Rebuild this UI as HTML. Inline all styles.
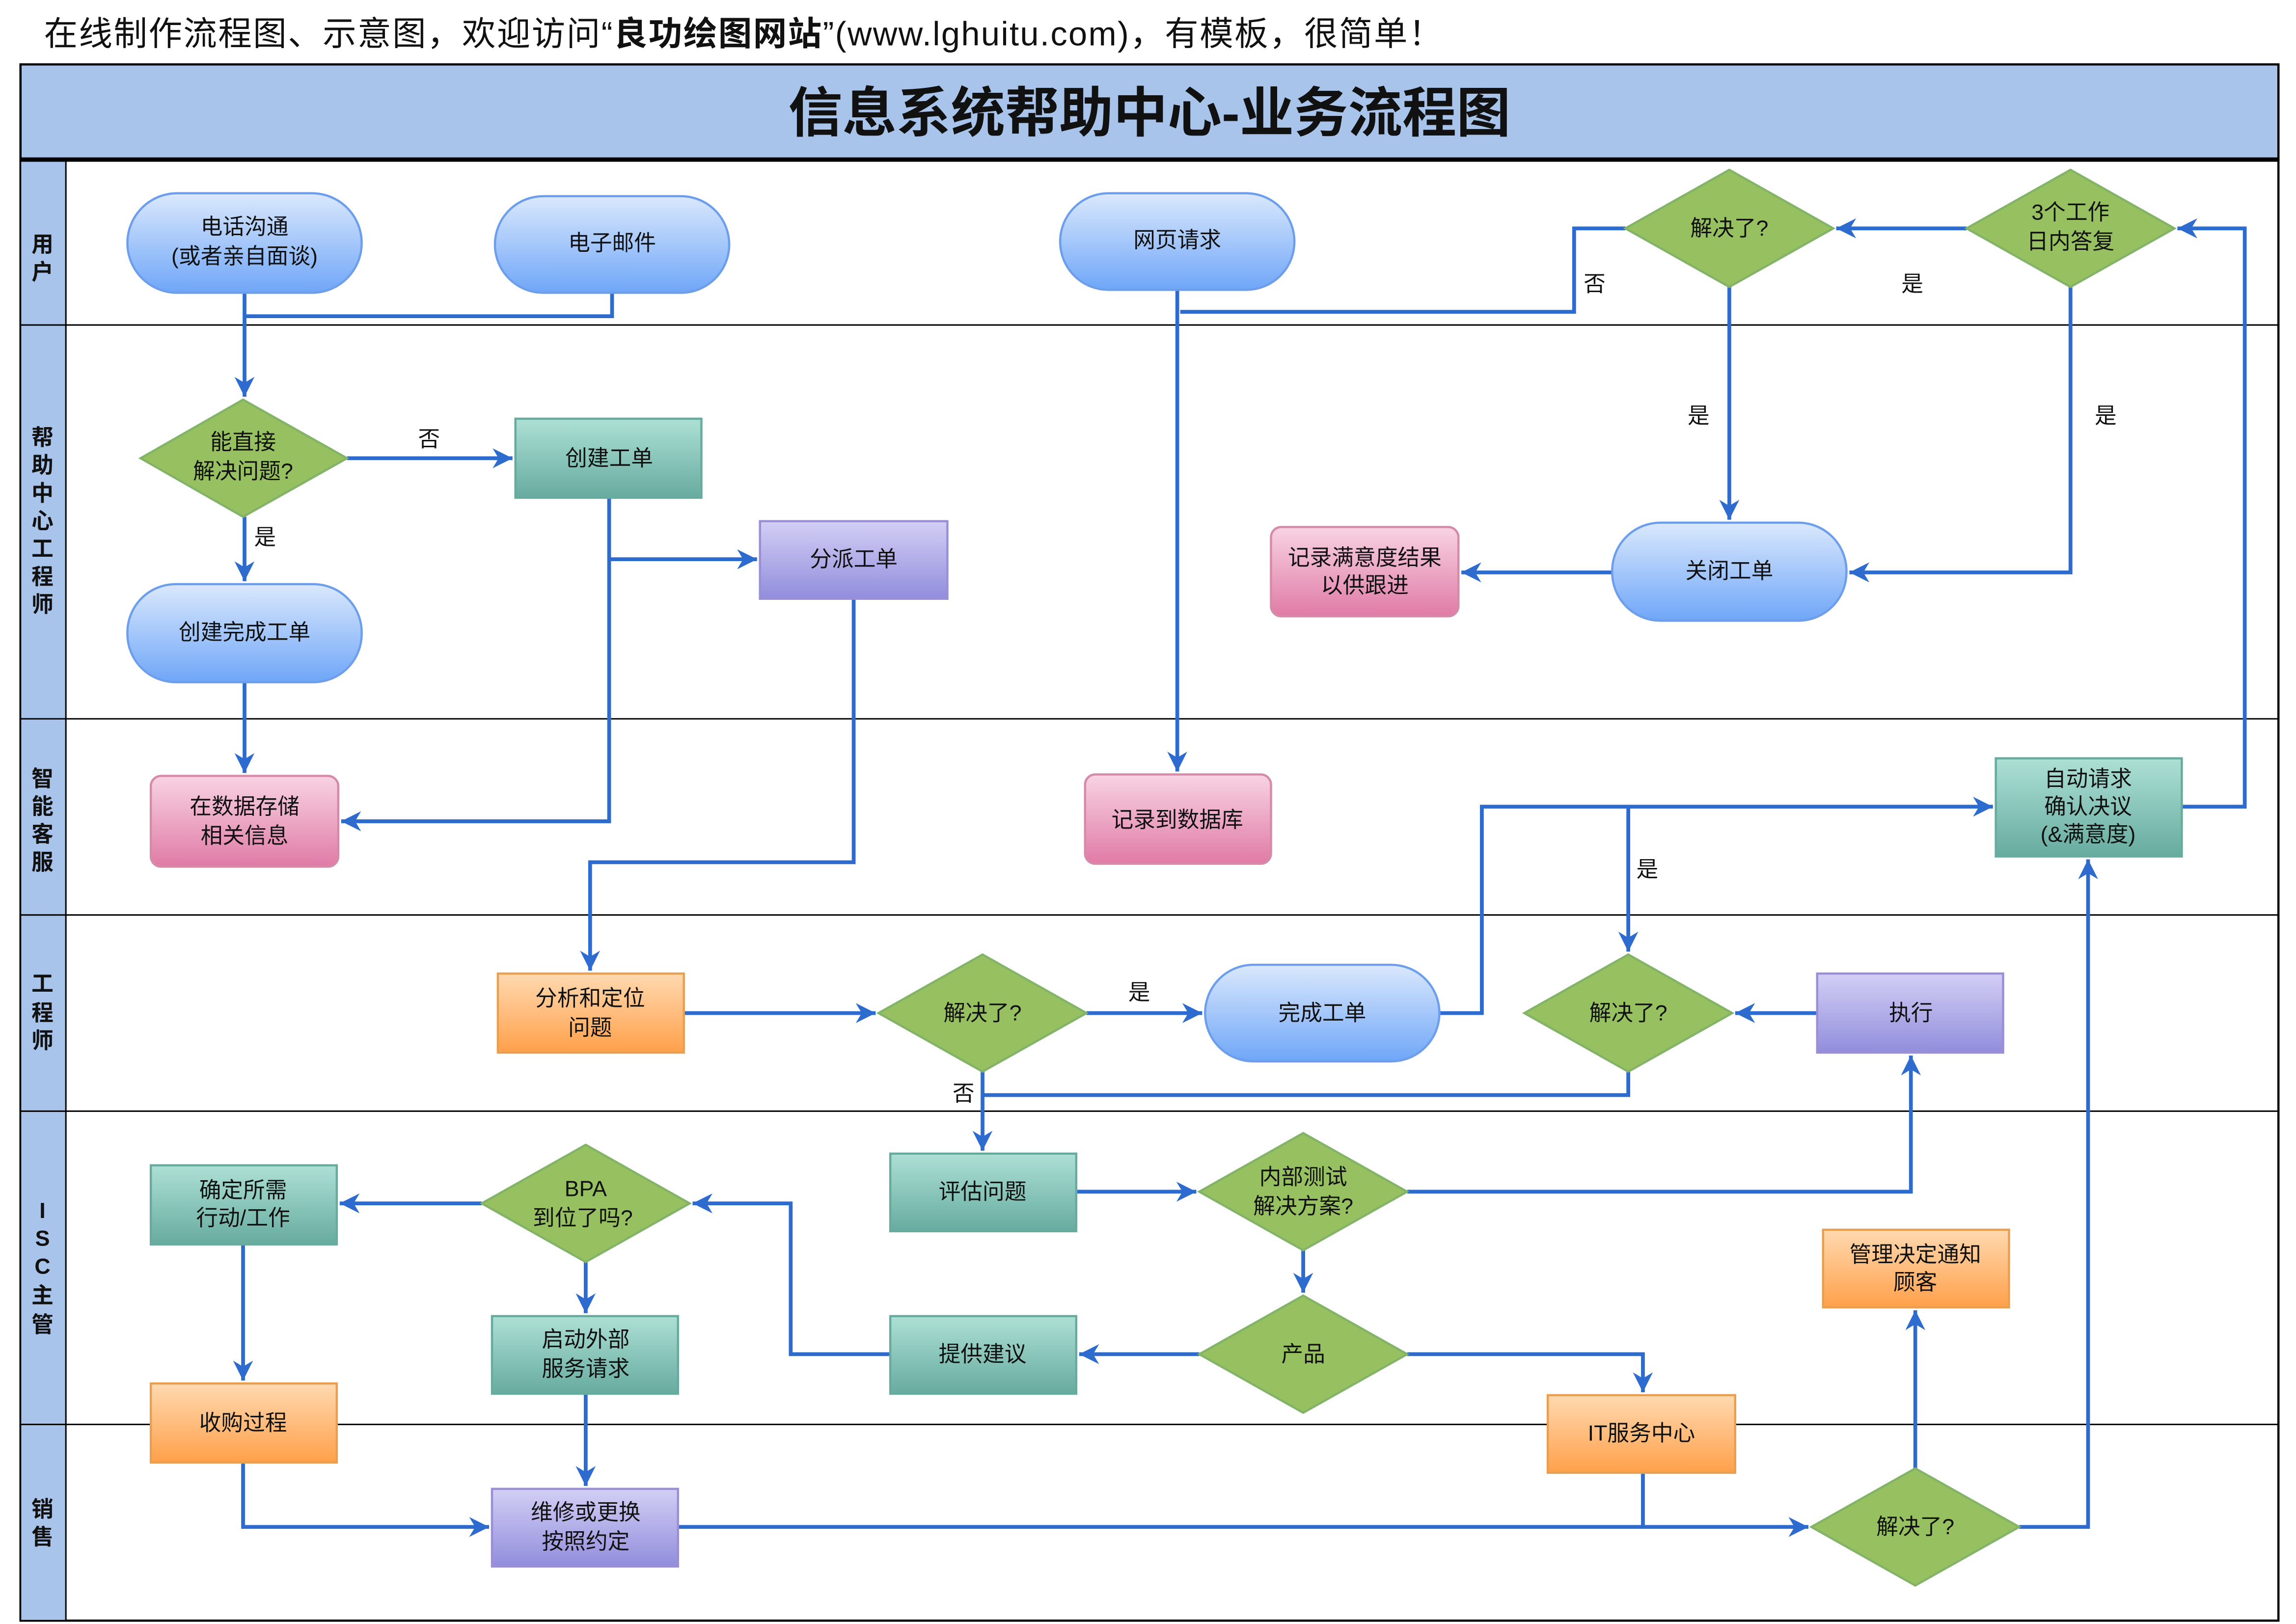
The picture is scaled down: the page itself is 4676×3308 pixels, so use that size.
<!DOCTYPE html>
<html><head><meta charset="utf-8"><style>
html,body{margin:0;padding:0;background:#fff;}
svg{display:block;}
text{font-family:"Liberation Sans","Noto Sans CJK SC",sans-serif;}
</style></head><body>
<svg width="4676" height="3308" viewBox="0 0 1568 1109.3" preserveAspectRatio="none" xmlns="http://www.w3.org/2000/svg">
<defs>
<linearGradient id="gb" x1="0" y1="0" x2="0" y2="1"><stop offset="0" stop-color="#dae8fc"/><stop offset="1" stop-color="#6fa6f8"/></linearGradient>
<linearGradient id="gt" x1="0" y1="0" x2="0" y2="1"><stop offset="0" stop-color="#ade0d5"/><stop offset="1" stop-color="#67ab9f"/></linearGradient>
<linearGradient id="gp" x1="0" y1="0" x2="0" y2="1"><stop offset="0" stop-color="#d2cff5"/><stop offset="1" stop-color="#928ddc"/></linearGradient>
<linearGradient id="gk" x1="0" y1="0" x2="0" y2="1"><stop offset="0" stop-color="#f8d3e3"/><stop offset="1" stop-color="#e07ba6"/></linearGradient>
<linearGradient id="go" x1="0" y1="0" x2="0" y2="1"><stop offset="0" stop-color="#ffd9b0"/><stop offset="1" stop-color="#ffa04a"/></linearGradient>
<marker id="a" viewBox="0 0 10 10" refX="10" refY="5" markerWidth="6.5" markerHeight="6.5" markerUnits="userSpaceOnUse" orient="auto" overflow="visible">
<path d="M0,0 L10,5 L0,10 L3,5 z" fill="#2d6bcf" transform="scale(2.1) translate(-5.2,-2.6)"/>
</marker>
</defs>
<text x="30" y="31" font-size="23" fill="#111" textLength="955" lengthAdjust="spacing">在线制作流程图、示意图，欢迎访问“<tspan font-weight="bold">良功绘图网站</tspan>”(www.lghuitu.com)，有模板，很简单！</text>
<rect x="14" y="44" width="1542" height="1063" fill="#fff" stroke="#000" stroke-width="1.5"/>
<rect x="14" y="44" width="1542" height="65" fill="#a9c4ea" stroke="#000" stroke-width="1.5"/>
<line x1="14" y1="109" x2="1556" y2="109" stroke="#000" stroke-width="3"/>
<text x="785" y="90" font-size="37" font-weight="bold" text-anchor="middle" fill="#111">信息系统帮助中心-业务流程图</text>
<rect x="14" y="110" width="31" height="997" fill="#a9c4ea" stroke="#000" stroke-width="1"/>
<g stroke="#000" stroke-width="1">
<line x1="14" y1="222" x2="1556" y2="222"/><line x1="14" y1="491" x2="1556" y2="491"/>
<line x1="14" y1="625" x2="1556" y2="625"/><line x1="14" y1="759" x2="1556" y2="759"/>
<line x1="14" y1="973" x2="1556" y2="973"/>
</g>
<g font-size="15" font-weight="bold" text-anchor="middle" fill="#111">
<text x="29" y="172">用</text><text x="29" y="191">户</text>
<text x="29" y="304">帮</text><text x="29" y="323">助</text><text x="29" y="342">中</text><text x="29" y="361">心</text><text x="29" y="380">工</text><text x="29" y="399">程</text><text x="29" y="418">师</text>
<text x="29" y="537">智</text><text x="29" y="556">能</text><text x="29" y="575">客</text><text x="29" y="594">服</text>
<text x="29" y="677">工</text><text x="29" y="697">程</text><text x="29" y="716">师</text>
<text x="29" y="832">I</text><text x="29" y="851">S</text><text x="29" y="870">C</text><text x="29" y="890">主</text><text x="29" y="910">管</text>
<text x="29" y="1036">销</text><text x="29" y="1055">售</text>
</g>
<g fill="none" stroke="#2d6bcf" stroke-width="2.6">
<path d="M167,200 V271" marker-end="url(#a)"/>
<path d="M418,200 V216 H167"/>
<path d="M237,313 H350" marker-end="url(#a)"/>
<path d="M167,353 V397" marker-end="url(#a)"/>
<path d="M416,340 V561 H233" marker-end="url(#a)"/>
<path d="M416,382 H517" marker-end="url(#a)"/>
<path d="M167,466 V528" marker-end="url(#a)"/>
<path d="M583,409 V589 H403 V663" marker-end="url(#a)"/>
<path d="M804,198 V527" marker-end="url(#a)"/>
<path d="M1110,156 H1075 V213 H806"/>
<path d="M1343,156 H1254" marker-end="url(#a)"/>
<path d="M1181,196 V355" marker-end="url(#a)"/>
<path d="M1414,196 V391 H1263" marker-end="url(#a)"/>
<path d="M1101,391 H998" marker-end="url(#a)"/>
<path d="M1490,551 H1533 V156 H1487" marker-end="url(#a)"/>
<path d="M467,692 H598" marker-end="url(#a)"/>
<path d="M742,692 H821" marker-end="url(#a)"/>
<path d="M983,692 H1012 V551 H1361" marker-end="url(#a)"/>
<path d="M1112,551 V650" marker-end="url(#a)"/>
<path d="M1241,692 H1185" marker-end="url(#a)"/>
<path d="M671,732 V786" marker-end="url(#a)"/>
<path d="M1112,732 V748 H671"/>
<path d="M735,814 H817" marker-end="url(#a)"/>
<path d="M961,814 H1305 V721" marker-end="url(#a)"/>
<path d="M890,854 V883" marker-end="url(#a)"/>
<path d="M819,925 H737" marker-end="url(#a)"/>
<path d="M961,925 H1122 V951" marker-end="url(#a)"/>
<path d="M608,925 H540 V822 H473" marker-end="url(#a)"/>
<path d="M329,822 H232" marker-end="url(#a)"/>
<path d="M400,862 V897" marker-end="url(#a)"/>
<path d="M166,850 V943" marker-end="url(#a)"/>
<path d="M400,952 V1015" marker-end="url(#a)"/>
<path d="M166,999 V1043 H334" marker-end="url(#a)"/>
<path d="M463,1043 H1235" marker-end="url(#a)"/>
<path d="M1122,1006 V1043"/>
<path d="M1308,1003 V895" marker-end="url(#a)"/>
<path d="M1379,1043 H1426 V587" marker-end="url(#a)"/>
</g>
<g font-size="15" fill="#111" text-anchor="middle">
<text x="293" y="305">否</text><text x="181" y="372">是</text>
<text x="1089" y="199">否</text><text x="1306" y="199">是</text>
<text x="1160" y="289">是</text><text x="1438" y="289">是</text>
<text x="778" y="683">是</text><text x="1125" y="599">是</text>
<text x="658" y="752">否</text>
</g>
<g fill="url(#gb)" stroke="#6d9eeb" stroke-width="1.5">
<rect x="87" y="132" width="160" height="68" rx="34"/>
<rect x="338" y="134" width="160" height="66" rx="33"/>
<rect x="724" y="132" width="160" height="66" rx="33"/>
<rect x="87" y="399" width="160" height="67" rx="33"/>
<rect x="1101" y="357" width="160" height="67" rx="33"/>
<rect x="823" y="659" width="160" height="66" rx="33"/>
</g>
<g fill="#97c160" stroke="#82b366" stroke-width="1.5">
<path d="M96,313 L166,273 L237,313 L166,353 Z"/>
<path d="M1110,156 L1181,116 L1252,156 L1181,196 Z"/>
<path d="M1343,156 L1414,116 L1485,156 L1414,196 Z"/>
<path d="M600,692 L671,652 L742,692 L671,732 Z"/>
<path d="M1041,692 L1112,652 L1183,692 L1112,732 Z"/>
<path d="M329,822 L400,782 L471,822 L400,862 Z"/>
<path d="M819,814 L890,774 L961,814 L890,854 Z"/>
<path d="M819,925 L890,885 L961,925 L890,965 Z"/>
<path d="M1237,1043 L1308,1003 L1379,1043 L1308,1083 Z"/>
</g>
<g fill="url(#gt)" stroke="#67ab9f" stroke-width="1.5">
<rect x="352" y="286" width="127" height="54"/>
<rect x="1363" y="518" width="127" height="67"/>
<rect x="608" y="788" width="127" height="53"/>
<rect x="103" y="796" width="127" height="54"/>
<rect x="336" y="899" width="127" height="53"/>
<rect x="608" y="899" width="127" height="53"/>
</g>
<g fill="url(#gp)" stroke="#9a8fd6" stroke-width="1.5">
<rect x="519" y="356" width="128" height="53"/>
<rect x="1241" y="665" width="127" height="54"/>
<rect x="336" y="1017" width="127" height="53"/>
</g>
<g fill="url(#gk)" stroke="#d58aa8" stroke-width="1.5">
<rect x="868" y="360" width="128" height="61" rx="7"/>
<rect x="103" y="530" width="128" height="62" rx="7"/>
<rect x="741" y="529" width="127" height="61" rx="7"/>
</g>
<g fill="url(#go)" stroke="#e8a050" stroke-width="1.5">
<rect x="340" y="665" width="127" height="54"/>
<rect x="1245" y="840" width="127" height="53"/>
<rect x="103" y="945" width="127" height="54"/>
<rect x="1057" y="953" width="128" height="53"/>
</g>
<g font-size="15" fill="#111" text-anchor="middle">
<text x="167" y="160">电话沟通</text><text x="167" y="180">(或者亲自面谈)</text>
<text x="418" y="171">电子邮件</text>
<text x="804" y="169">网页请求</text>
<text x="167" y="437">创建完成工单</text>
<text x="1181" y="395">关闭工单</text>
<text x="903" y="697">完成工单</text>
<text x="166" y="307">能直接</text><text x="166" y="327">解决问题?</text>
<text x="1181" y="161">解决了?</text>
<text x="1414" y="150">3个工作</text><text x="1414" y="170">日内答复</text>
<text x="671" y="697">解决了?</text>
<text x="1112" y="697">解决了?</text>
<text x="400" y="817">BPA</text><text x="398" y="837">到位了吗?</text>
<text x="890" y="809">内部测试</text><text x="890" y="829">解决方案?</text>
<text x="890" y="930">产品</text>
<text x="1308" y="1048">解决了?</text>
<text x="416" y="318">创建工单</text>
<text x="1426" y="537">自动请求</text><text x="1426" y="556">确认决议</text><text x="1426" y="575">(&amp;满意度)</text>
<text x="671" y="819">评估问题</text>
<text x="166" y="818">确定所需</text><text x="166" y="837">行动/工作</text>
<text x="400" y="920">启动外部</text><text x="400" y="940">服务请求</text>
<text x="671" y="930">提供建议</text>
<text x="583" y="387">分派工单</text>
<text x="1305" y="697">执行</text>
<text x="400" y="1038">维修或更换</text><text x="400" y="1058">按照约定</text>
<text x="932" y="386">记录满意度结果</text><text x="932" y="405">以供跟进</text>
<text x="167" y="556">在数据存储</text><text x="167" y="576">相关信息</text>
<text x="804" y="565">记录到数据库</text>
<text x="403" y="687">分析和定位</text><text x="403" y="707">问题</text>
<text x="1308" y="862">管理决定通知</text><text x="1308" y="881">顾客</text>
<text x="166" y="977">收购过程</text>
<text x="1121" y="984">IT服务中心</text>
</g>
</svg>
</body></html>
